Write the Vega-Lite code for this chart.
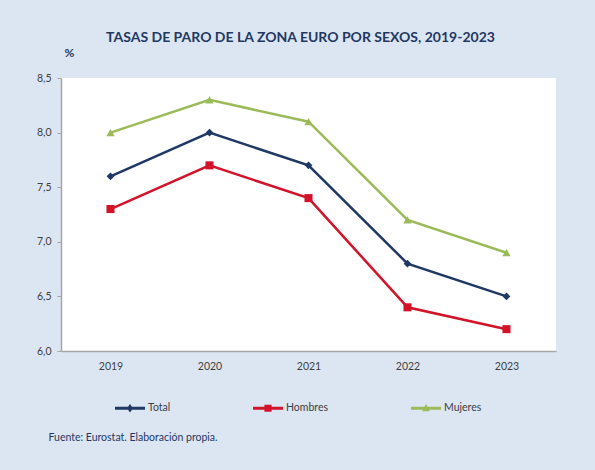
{
  "$schema": "https://vega.github.io/schema/vega-lite/v6.json",
  "autosize": "none",
  "width": 495,
  "height": 273,
  "padding": {"left": 61, "top": 78, "right": 39, "bottom": 119},
  "background": "#dce6f2",
  "title": {
    "text": "TASAS DE PARO DE LA ZONA EURO POR SEXOS, 2019-2023",
    "font": "Lato",
    "fontSize": 14,
    "fontWeight": "bold",
    "color": "#1f3864",
    "anchor": "middle",
    "dx": -8,
    "offset": 1
  },
  "data": {
    "values": [
      {"year": 2019, "serie": "Total", "valor": 7.6},
      {"year": 2020, "serie": "Total", "valor": 8.0},
      {"year": 2021, "serie": "Total", "valor": 7.7},
      {"year": 2022, "serie": "Total", "valor": 6.8},
      {"year": 2023, "serie": "Total", "valor": 6.5},
      {"year": 2019, "serie": "Hombres", "valor": 7.3},
      {"year": 2020, "serie": "Hombres", "valor": 7.7},
      {"year": 2021, "serie": "Hombres", "valor": 7.4},
      {"year": 2022, "serie": "Hombres", "valor": 6.4},
      {"year": 2023, "serie": "Hombres", "valor": 6.2},
      {"year": 2019, "serie": "Mujeres", "valor": 8.0},
      {"year": 2020, "serie": "Mujeres", "valor": 8.3},
      {"year": 2021, "serie": "Mujeres", "valor": 8.1},
      {"year": 2022, "serie": "Mujeres", "valor": 7.2},
      {"year": 2023, "serie": "Mujeres", "valor": 6.9}
    ]
  },
  "layer": [
    {
      "mark": {"type": "rect", "fill": "white", "opacity": 0.85},
      "encoding": {
        "x": {"datum": 2018.95, "type": "quantitative"},
        "x2": {"datum": 2023.13},
        "y": {"datum": 8.34, "type": "quantitative"},
        "y2": {"datum": 6.1}
      }
    },
    {
      "encoding": {
        "x": {
          "field": "year",
          "type": "quantitative",
          "scale": {"domain": [2018.5, 2023.5], "nice": false, "zero": false},
          "axis": {
            "values": [2019, 2020, 2021, 2022, 2023],
            "format": "d",
            "grid": false,
            "ticks": false,
            "domainColor": "#a6a6a6",
            "domainWidth": 1.5,
            "labelFont": "Lato",
            "labelFontSize": 10.5,
            "labelColor": "#404040",
            "labelPadding": 10,
            "title": "Fuente:  Eurostat. Elaboración propia.",
            "titleFont": "Lato",
            "titleFontSize": 10.5,
            "titleFontWeight": "normal",
            "titleColor": "#1f3864",
            "titleAnchor": "start",
            "titleAlign": "left",
            "titleBaseline": "middle",
            "titleX": -13,
            "titleY": 86
          }
        },
        "y": {
          "field": "valor",
          "type": "quantitative",
          "scale": {"domain": [6, 8.5], "nice": false, "zero": false},
          "axis": {
            "values": [6, 6.5, 7, 7.5, 8, 8.5],
            "labelExpr": "floor(datum.value) + ',' + (round(datum.value * 10) % 10)",
            "gridColor": "#b8cce4",
            "gridWidth": 1,
            "domainColor": "#a6a6a6",
            "domainWidth": 1.5,
            "tickColor": "#a6a6a6",
            "tickSize": 4,
            "labelFont": "Lato",
            "labelFontSize": 10.5,
            "labelColor": "#404040",
            "labelPadding": 6,
            "title": "%",
            "titleFont": "Lato",
            "titleFontSize": 12,
            "titleFontWeight": "bold",
            "titleColor": "#1f3864",
            "titleAngle": 0,
            "titleAlign": "left",
            "titleBaseline": "middle",
            "titleX": 3,
            "titleY": -26
          }
        }
      },
      "layer": [
        {
          "mark": {"type": "line", "strokeWidth": 2.5},
          "encoding": {
            "color": {
              "field": "serie",
              "type": "nominal",
              "scale": {
                "domain": ["Total", "Hombres", "Mujeres"],
                "range": ["#1f3864", "#d2132a", "#9bbb59"]
              },
              "legend": {
                "title": null,
                "orient": "none",
                "direction": "horizontal",
                "legendX": 54,
                "legendY": 315,
                "columnPadding": 82,
                "symbolSize": 900,
                "labelOffset": 3,
                "labelFont": "Lato",
                "labelFontSize": 10.5,
                "labelColor": "#404040",
                "encode": {
                  "symbols": {
                    "update": {
                      "shape": {"signal": "datum.value === 'Total' ? 'M-1,-0.1H1V0.1H-1Z M0,-0.28L0.2,0L0,0.28L-0.2,0Z' : datum.value === 'Hombres' ? 'M-1,-0.1H1V0.1H-1Z M-0.24,-0.24H0.24V0.24H-0.24Z' : 'M-1,-0.1H1V0.1H-1Z M0,-0.28L0.26,0.2H-0.26Z'"},
                      "fill": {"signal": "datum.value === 'Total' ? '#1f3864' : datum.value === 'Hombres' ? '#d2132a' : '#9bbb59'"},
                      "strokeWidth": {"value": 0},
                      "opacity": {"value": 1}
                    }
                  }
                }
              }
            }
          }
        },
        {
          "transform": [{"filter": "datum.serie === 'Total'"}],
          "mark": {"type": "point", "shape": "diamond", "filled": true, "size": 60, "opacity": 1, "color": "#1f3864"}
        },
        {
          "transform": [{"filter": "datum.serie === 'Hombres'"}],
          "mark": {"type": "point", "shape": "square", "filled": true, "size": 65, "opacity": 1, "color": "#d2132a"}
        },
        {
          "transform": [{"filter": "datum.serie === 'Mujeres'"}],
          "mark": {"type": "point", "shape": "triangle-up", "filled": true, "size": 70, "opacity": 1, "color": "#9bbb59"}
        }
      ]
    }
  ],
  "config": {
    "view": {"fill": "white", "stroke": null}
  }
}
